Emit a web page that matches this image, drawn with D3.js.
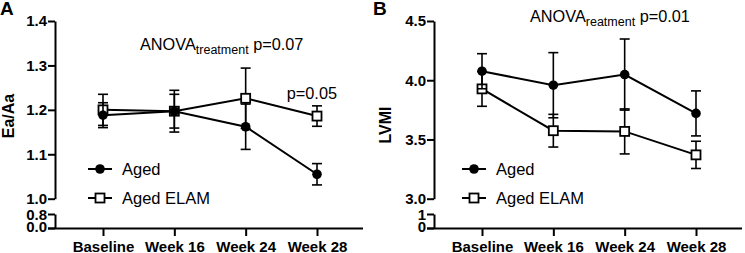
<!DOCTYPE html>
<html>
<head>
<meta charset="utf-8">
<script src="https://cdn.jsdelivr.net/npm/d3@7"></script>
<style>
  body { margin: 0; background: #fff; }
  svg { display: block; font-family: "Liberation Sans", Arial, sans-serif; }
</style>
</head>
<body>
<div id="chart"></div>
<script>
// data
const categories = ['Baseline', 'Week 16', 'Week 24', 'Week 28'];

const eaAged = [1.188, 1.197, 1.162, 1.055];
const eaAgedErr = [0.028, 0.047, 0.051, 0.024];
const eaElam = [1.200, 1.197, 1.226, 1.186];
const eaElamErr = [0.035, 0.038, 0.068, 0.023];

const lvmiAged = [4.076, 3.958, 4.048, 3.720];
const lvmiAgedErr = [0.148, 0.275, 0.300, 0.190];
const lvmiElam = [3.927, 3.574, 3.568, 3.370];
const lvmiElamErr = [0.147, 0.138, 0.190, 0.115];

const eaTicks = [1.0, 1.1, 1.2, 1.3, 1.4];
const eaLowTicks = [0.0, 0.8];
const lvmiTicks = [3.0, 3.5, 4.0, 4.5];
const lvmiLowTicks = [0, 1];

const width = 745, height = 253;
const svg = d3.select('#chart').append('svg')
    .attr('width', width)
    .attr('height', height);

function drawPanel(opt) {
    const g = svg.append('g');
    const ax = opt.axisX;

    const x = d3.scalePoint()
        .domain(categories)
        .range([opt.x0, opt.x1]);

    const y = d3.scaleLinear()
        .domain(opt.domain)
        .range([198.7, 21]);

    const yLow = d3.scaleLinear()
        .domain(opt.lowDomain)
        .range([228, 214]);

    // upper y axis
    const yAxis = g.append('g')
        .attr('transform', `translate(${ax},0)`)
        .call(d3.axisLeft(y).tickValues(opt.ticks).tickFormat(d3.format(opt.fmt)).tickSize(7).tickSizeOuter(0));

    // lower (broken) y axis
    const yLowAxis = g.append('g')
        .attr('transform', `translate(${ax},0)`)
        .call(d3.axisLeft(yLow).tickValues(opt.lowTicks).tickFormat(d3.format(opt.lowFmt)).tickSize(7).tickSizeOuter(0));

    // x axis
    const xAxis = g.append('g')
        .attr('transform', `translate(0,228)`)
        .call(d3.axisBottom(x).tickSize(8).tickSizeOuter(0).tickPadding(5));
    xAxis.select('.domain').attr('d', `M${ax - 7},0.5H${opt.xEnd}`);

    [yAxis, yLowAxis, xAxis].forEach(a => {
        a.selectAll('path, line').attr('stroke', '#000').attr('stroke-width', 2);
        a.selectAll('text')
            .attr('fill', '#000')
            .style('font-size', '15px')
            .style('font-weight', 'bold');
    });
    yAxis.selectAll('text').attr('x', -8);
    yLowAxis.selectAll('text').attr('x', -8);
    // squeeze the two tight labels of the short lower segment
    yLowAxis.selectAll('text').attr('dy', d => d === 0 ? '0.25em' : '0.36em');
    xAxis.selectAll('text').attr('dy', '0.71em');

    const line = d3.line()
        .x((d, i) => x(categories[i]))
        .y(d => y(d));

    const series = [
        { vals: opt.elam, err: opt.elamErr, shape: 'square' },
        { vals: opt.aged, err: opt.agedErr, shape: 'circle' }
    ];

    series.forEach(s => {
        g.append('path')
            .datum(s.vals)
            .attr('d', line)
            .attr('fill', 'none')
            .attr('stroke', '#000')
            .attr('stroke-width', 2);

        const eb = g.append('g');
        s.vals.forEach((v, i) => {
            const cx = x(categories[i]);
            const top = y(v + s.err[i]);
            const bot = y(v - s.err[i]);
            eb.append('line').attr('x1', cx).attr('x2', cx).attr('y1', top).attr('y2', bot);
            eb.append('line').attr('x1', cx - 5).attr('x2', cx + 5).attr('y1', top).attr('y2', top);
            eb.append('line').attr('x1', cx - 5).attr('x2', cx + 5).attr('y1', bot).attr('y2', bot);
        });
        eb.selectAll('line').attr('stroke', '#000').attr('stroke-width', 1.6);

        const marks = g.selectAll(null)
            .data(s.vals)
            .enter();
        if (s.shape === 'circle') {
            marks.append('circle')
                .attr('cx', (d, i) => x(categories[i]))
                .attr('cy', d => y(d))
                .attr('r', 4.8)
                .attr('fill', '#000');
        } else {
            marks.append('rect')
                .attr('x', (d, i) => x(categories[i]) - 4.5)
                .attr('y', d => y(d) - 4.5)
                .attr('width', 9)
                .attr('height', 9)
                .attr('fill', '#fff')
                .attr('stroke', '#000')
                .attr('stroke-width', 1.8);
        }
    });

    // legend
    const lg = g.append('g');
    const lx = opt.legendX;
    [{ name: 'Aged', y: 169, shape: 'circle' }, { name: 'Aged ELAM', y: 198, shape: 'square' }].forEach(item => {
        lg.append('line')
            .attr('x1', lx - 12).attr('x2', lx + 12)
            .attr('y1', item.y).attr('y2', item.y)
            .attr('stroke', '#000').attr('stroke-width', 2);
        if (item.shape === 'circle') {
            lg.append('circle').attr('cx', lx).attr('cy', item.y).attr('r', 4.8).attr('fill', '#000');
        } else {
            lg.append('rect').attr('x', lx - 4.5).attr('y', item.y - 4.5)
                .attr('width', 9).attr('height', 9)
                .attr('fill', '#fff').attr('stroke', '#000').attr('stroke-width', 1.8);
        }
        lg.append('text')
            .attr('x', lx + 22)
            .attr('y', item.y + 6)
            .style('font-size', '16.5px')
            .attr('fill', '#000')
            .text(item.name);
    });

    // y label
    g.append('text')
        .attr('transform', `translate(${opt.yLabelX},${opt.yLabelY}) rotate(-90)`)
        .attr('text-anchor', 'middle')
        .style('font-size', '16px')
        .style('font-weight', 'bold')
        .text(opt.yLabel);

    // panel letter
    g.append('text')
        .attr('x', opt.letterX)
        .attr('y', 15)
        .style('font-size', '19px')
        .style('font-weight', 'bold')
        .text(opt.letter);

    // ANOVA annotation
    const an = g.append('text')
        .attr('x', opt.anovaX)
        .attr('y', opt.anovaY)
        .style('font-size', '16.3px')
        .attr('fill', '#000');
    an.append('tspan').text('ANOVA');
    an.append('tspan').attr('dy', 4).style('font-size', '12.5px').text(opt.sub);
    an.append('tspan').attr('dy', -4).text(' p=' + opt.anovaP);

    return { g, x, y };
}

const a = drawPanel({
    axisX: 55, x0: 103, x1: 317, xEnd: 363,
    domain: [1.0, 1.4], ticks: eaTicks, fmt: '.1f',
    lowDomain: [0, 0.8], lowTicks: eaLowTicks, lowFmt: '.1f',
    aged: eaAged, agedErr: eaAgedErr, elam: eaElam, elamErr: eaElamErr,
    legendX: 100, yLabel: 'Ea/Aa', yLabelX: 14, yLabelY: 116,
    letter: 'A', letterX: 0,
    anovaX: 140, anovaY: 50, sub: 'treatment', anovaP: '0.07'
});

a.g.append('text')
    .attr('x', a.x('Week 28') + 20)
    .attr('y', 99)
    .attr('text-anchor', 'end')
    .style('font-size', '16.3px')
    .text('p=0.05');

drawPanel({
    axisX: 434, x0: 482, x1: 696, xEnd: 742,
    domain: [3.0, 4.5], ticks: lvmiTicks, fmt: '.1f',
    lowDomain: [0, 1], lowTicks: lvmiLowTicks, lowFmt: 'd',
    aged: lvmiAged, agedErr: lvmiAgedErr, elam: lvmiElam, elamErr: lvmiElamErr,
    legendX: 474, yLabel: 'LVMI', yLabelX: 391, yLabelY: 125,
    letter: 'B', letterX: 373,
    anovaX: 530, anovaY: 22, sub: 'reatment', anovaP: '0.01'
});
</script>
</body>
</html>
